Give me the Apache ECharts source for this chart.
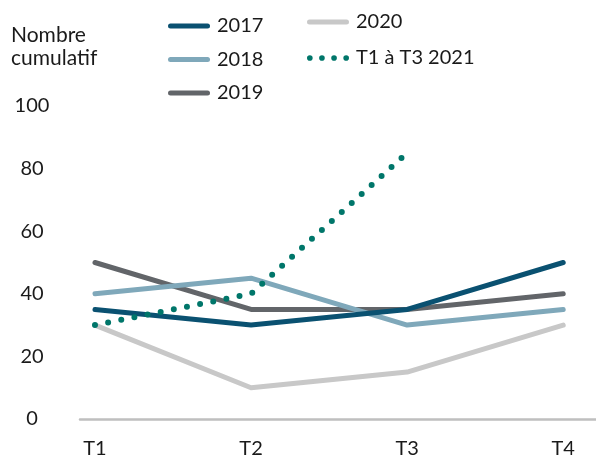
<!DOCTYPE html>
<html>
<head>
<meta charset="utf-8">
<script src="https://cdn.jsdelivr.net/npm/echarts@6/dist/echarts.min.js"></script>
<style>
  html, body { margin: 0; padding: 0; background: #ffffff; }
  #chart { width: 596px; height: 459px; }
</style>
</head>
<body>
<div id="chart"></div>
<script>
// Quarters on the horizontal axis
var quarters = ['T1', 'T2', 'T3', 'T4'];

// Cumulative counts per quarter
var y2017 = [35, 30, 35, 50];
var y2018 = [40, 45, 30, 35];
var y2019 = [50, 35, 35, 40];
var y2020 = [30, 10, 15, 30];
var y2021 = [30, 40, 85];

var yTicks = [0, 20, 40, 60, 80, 100];

var FONT = 'Lato, "Open Sans", sans-serif';
var TEXT = '#1a1a1a';

// Legend keys: a rounded bar for solid lines, a row of dots for the dotted one
var ICON_SOLID = 'path://M2.5,0 H39.5 A2.5,2.5 0 0 1 39.5,5 H2.5 A2.5,2.5 0 0 1 2.5,0 Z';
var ICON_DOTS = 'path://' + [2.9, 15.3, 27.7, 40.1].map(function (cx) {
  return 'M' + (cx - 2.9) + ',2.9 a2.9,2.9 0 1 0 5.8,0 a2.9,2.9 0 1 0 -5.8,0 Z';
}).join(' ');

function pairs(values) {
  return values.map(function (v, i) { return [i, v]; });
}

function lineSeries(name, values, color, extra) {
  var s = {
    name: name,
    type: 'line',
    data: pairs(values),
    showSymbol: false,
    symbol: 'none',
    silent: true,
    animation: false,
    lineStyle: { color: color, width: 5, cap: 'round', join: 'round' },
    itemStyle: { color: color }
  };
  if (extra) {
    s.lineStyle = Object.assign(s.lineStyle, extra);
  }
  return s;
}

var legendText = { fontFamily: FONT, fontSize: 20, color: TEXT, lineHeight: 20, padding: [0, 0, 0, 2] };

var chart = echarts.init(document.getElementById('chart'), null, { renderer: 'canvas' });

chart.setOption({
  backgroundColor: '#ffffff',
  animation: false,
  title: {
    text: 'Nombre\ncumulatif',
    left: 11,
    top: 24,
    padding: 0,
    textStyle: { fontFamily: FONT, fontSize: 21, fontWeight: 'normal', color: TEXT, lineHeight: 23 }
  },
  legend: [
    {
      data: [
        { name: '2017', icon: ICON_SOLID },
        { name: '2018', icon: ICON_SOLID },
        { name: '2019', icon: ICON_SOLID }
      ],
      orient: 'vertical',
      left: 168,
      top: 16,
      padding: 0,
      itemWidth: 42,
      itemHeight: 5,
      itemGap: 13.5,
      itemStyle: { borderWidth: 0 },
      textStyle: legendText
    },
    {
      data: [
        { name: '2020', icon: ICON_SOLID },
        { name: 'T1 à T3 2021', icon: ICON_DOTS }
      ],
      orient: 'vertical',
      left: 307,
      top: 12,
      padding: 0,
      itemWidth: 42,
      itemHeight: 5.8,
      itemGap: 16,
      itemStyle: { borderWidth: 0 },
      textStyle: legendText
    }
  ],
  grid: { left: 80, right: 0, top: 106, bottom: 37, containLabel: false },
  xAxis: {
    type: 'value',
    min: -0.096,
    max: 3.21,
    axisLine: { show: true, lineStyle: { color: '#bfbfbf', width: 2.5 } },
    axisTick: { show: false },
    splitLine: { show: false },
    axisLabel: {
      customValues: [0, 1, 2, 3],
      formatter: function (v) { return quarters[Math.round(v)]; },
      fontFamily: FONT,
      fontSize: 20,
      color: TEXT,
      margin: 20
    }
  },
  yAxis: {
    type: 'value',
    min: yTicks[0],
    max: yTicks[yTicks.length - 1],
    interval: 20,
    axisLine: { show: false },
    axisTick: { show: false },
    splitLine: { show: false },
    axisLabel: {
      fontFamily: FONT,
      fontSize: 20,
      color: TEXT,
      align: 'center',
      margin: 48
    }
  },
  series: [
    lineSeries('2020', y2020, '#c8c8c8'),
    lineSeries('2019', y2019, '#626569'),
    lineSeries('2018', y2018, '#7fa8ba'),
    lineSeries('2017', y2017, '#0a5171'),
    lineSeries('T1 à T3 2021', y2021, '#00766a', { type: [0, 13.4], width: 6 })
  ]
});
</script>
</body>
</html>
